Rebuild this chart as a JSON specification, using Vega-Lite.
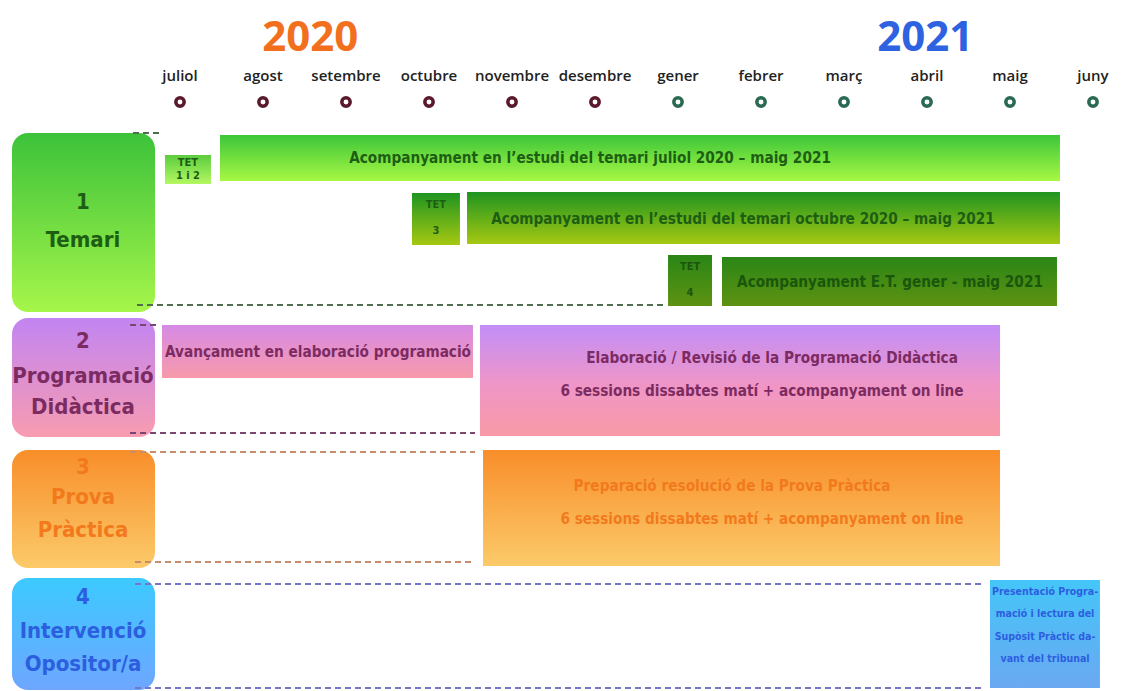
{
  "$schema": "https://vega.github.io/schema/vega-lite/v6.json",
  "width": 1128,
  "height": 691,
  "autosize": {"type": "fit", "contains": "padding"},
  "padding": 0,
  "background": "white",
  "config": {"view": {"stroke": null}},
  "datasets": {
    "months": [
      {"m": 0, "name": "juliol", "ring": "c2020"},
      {"m": 1, "name": "agost", "ring": "c2020"},
      {"m": 2, "name": "setembre", "ring": "c2020"},
      {"m": 3, "name": "octubre", "ring": "c2020"},
      {"m": 4, "name": "novembre", "ring": "c2020"},
      {"m": 5, "name": "desembre", "ring": "c2020"},
      {"m": 6, "name": "gener", "ring": "c2021"},
      {"m": 7, "name": "febrer", "ring": "c2021"},
      {"m": 8, "name": "març", "ring": "c2021"},
      {"m": 9, "name": "abril", "ring": "c2021"},
      {"m": 10, "name": "maig", "ring": "c2021"},
      {"m": 11, "name": "juny", "ring": "c2021"}
    ],
    "years": [
      {"text": "2020", "m": 1.57, "phase": "y2020"},
      {"text": "2021", "m": 8.98, "phase": "y2021"}
    ],
    "rects": [
      {"part": "box1", "label": "Temari", "m": -2.024, "m2": -0.301, "r": 13.3, "r2": 31.2},
      {"part": "box2", "label": "Programació Didàctica", "m": -2.024, "m2": -0.301, "r": 31.8, "r2": 43.7},
      {"part": "box3", "label": "Prova Pràctica", "m": -2.024, "m2": -0.301, "r": 45.0, "r2": 56.8},
      {"part": "box4", "label": "Intervenció Opositor/a", "m": -2.024, "m2": -0.301, "r": 57.8, "r2": 69.0},
      {"part": "tet12", "label": "TET 1 i 2", "m": -0.181, "m2": 0.373, "r": 15.5, "r2": 18.4},
      {"part": "acomp1", "label": "juliol - maig", "m": 0.482, "m2": 10.602, "r": 13.5, "r2": 18.1},
      {"part": "tet3", "label": "TET 3", "m": 2.795, "m2": 3.373, "r": 19.3, "r2": 24.5},
      {"part": "acomp2", "label": "octubre - maig", "m": 3.458, "m2": 10.602, "r": 19.2, "r2": 24.4},
      {"part": "tet4", "label": "TET 4", "m": 5.88, "m2": 6.41, "r": 25.5, "r2": 30.6},
      {"part": "acomp3", "label": "gener - maig", "m": 6.53, "m2": 10.566, "r": 25.7, "r2": 30.6},
      {"part": "avanc", "label": "Avançament", "m": -0.217, "m2": 3.53, "r": 32.5, "r2": 37.8},
      {"part": "elab", "label": "Elaboració", "m": 3.614, "m2": 9.88, "r": 32.5, "r2": 43.6},
      {"part": "prep", "label": "Preparació", "m": 3.651, "m2": 9.88, "r": 45.0, "r2": 56.6},
      {"part": "pres", "label": "Presentació", "m": 9.759, "m2": 11.084, "r": 58.0, "r2": 68.8}
    ],
    "dashes": [
      {"phase": "temari", "m": -0.566, "m2": -0.205, "r": 13.3},
      {"phase": "temari", "m": -0.518, "m2": 5.843, "r": 30.5},
      {"phase": "prog", "m": -0.602, "m2": -0.277, "r": 32.5},
      {"phase": "prog", "m": -0.602, "m2": 3.554, "r": 43.3},
      {"phase": "prova", "m": -0.602, "m2": 3.554, "r": 45.2},
      {"phase": "prova", "m": -0.542, "m2": 3.554, "r": 56.2},
      {"phase": "interv", "m": -0.542, "m2": 9.699, "r": 58.4},
      {"phase": "interv", "m": -0.542, "m2": 9.699, "r": 68.8}
    ],
    "texts": [
      {"kind": "cat", "text": "1", "m": -1.169, "r": 20.2, "phase": "temari"},
      {"kind": "cat", "text": "Temari", "m": -1.169, "r": 24.0, "phase": "temari"},
      {"kind": "cat", "text": "2", "m": -1.169, "r": 34.1, "phase": "prog"},
      {"kind": "cat", "text": "Programació", "m": -1.169, "r": 37.6, "phase": "prog"},
      {"kind": "cat", "text": "Didàctica", "m": -1.169, "r": 40.7, "phase": "prog"},
      {"kind": "cat", "text": "3", "m": -1.169, "r": 46.7, "phase": "prova"},
      {"kind": "cat", "text": "Prova", "m": -1.169, "r": 49.7, "phase": "prova"},
      {"kind": "cat", "text": "Pràctica", "m": -1.169, "r": 53.0, "phase": "prova"},
      {"kind": "cat", "text": "4", "m": -1.169, "r": 59.7, "phase": "interv"},
      {"kind": "cat", "text": "Intervenció", "m": -1.169, "r": 63.1, "phase": "interv"},
      {"kind": "cat", "text": "Opositor/a", "m": -1.169, "r": 66.4, "phase": "interv"},
      {"kind": "bar", "text": "Acompanyament en l’estudi del temari juliol 2020 – maig 2021", "m": 4.94, "r": 15.8, "phase": "temari"},
      {"kind": "bar", "text": "Acompanyament en l’estudi del temari octubre 2020 – maig 2021", "m": 6.783, "r": 21.9, "phase": "temari"},
      {"kind": "bar", "text": "Acompanyament E.T. gener - maig 2021", "m": 8.554, "r": 28.2, "phase": "temariET"},
      {"kind": "bar", "text": "Avançament en elaboració programació", "m": 1.663, "r": 35.2, "phase": "prog"},
      {"kind": "bar", "text": "Elaboració / Revisió de la Programació Didàctica", "m": 7.133, "r": 35.8, "phase": "prog"},
      {"kind": "bar", "text": "6 sessions dissabtes matí + acompanyament on line", "m": 7.012, "r": 39.1, "phase": "prog"},
      {"kind": "bar", "text": "Preparació resolució de la Prova Pràctica", "m": 6.651, "r": 48.6, "phase": "prova"},
      {"kind": "bar", "text": "6 sessions dissabtes matí + acompanyament on line", "m": 7.012, "r": 51.9, "phase": "prova"},
      {"kind": "tet", "text": "TET", "m": 0.096, "r": 16.3, "phase": "temari"},
      {"kind": "tet", "text": "1 i 2", "m": 0.096, "r": 17.6, "phase": "temari"},
      {"kind": "tet", "text": "TET", "m": 3.084, "r": 20.5, "phase": "temari"},
      {"kind": "tet", "text": "3", "m": 3.084, "r": 23.1, "phase": "temari"},
      {"kind": "tet", "text": "TET", "m": 6.145, "r": 26.7, "phase": "temariET"},
      {"kind": "tet", "text": "4", "m": 6.145, "r": 29.3, "phase": "temariET"},
      {"kind": "note", "text": "Presentació Progra-", "m": 10.422, "r": 59.2, "phase": "interv"},
      {"kind": "note", "text": "mació i lectura del", "m": 10.422, "r": 61.4, "phase": "interv"},
      {"kind": "note", "text": "Supòsit Pràctic da-", "m": 10.422, "r": 63.7, "phase": "interv"},
      {"kind": "note", "text": "vant del tribunal", "m": 10.422, "r": 65.9, "phase": "interv"}
    ]
  },
  "layer": [
    {
      "data": {"name": "rects"},
      "transform": [{"filter": "datum.part === 'box1'"}],
      "mark": {"type": "rect", "cornerRadius": 16, "fill": {"gradient": "linear", "x1": 0, "y1": 0, "x2": 0, "y2": 1, "stops": [{"offset": 0, "color": "#3cc23a"}, {"offset": 1, "color": "#a6f64a"}]}},
      "encoding": {
        "x": {"field": "m", "type": "quantitative", "scale": {"domain": [-2.1687, 11.4217], "nice": false, "zero": false}, "axis": null},
        "x2": {"field": "m2"},
        "y": {"field": "r", "type": "quantitative", "scale": {"domain": [0, 69.1], "reverse": true, "nice": false, "zero": false}, "axis": null},
        "y2": {"field": "r2"}
      }
    },
    {
      "data": {"name": "rects"},
      "transform": [{"filter": "datum.part === 'box2'"}],
      "mark": {"type": "rect", "cornerRadius": 16, "fill": {"gradient": "linear", "x1": 0, "y1": 0, "x2": 0, "y2": 1, "stops": [{"offset": 0, "color": "#c284f2"}, {"offset": 1, "color": "#f89cb0"}]}},
      "encoding": {
        "x": {"field": "m", "type": "quantitative", "scale": {"domain": [-2.1687, 11.4217], "nice": false, "zero": false}, "axis": null},
        "x2": {"field": "m2"},
        "y": {"field": "r", "type": "quantitative", "scale": {"domain": [0, 69.1], "reverse": true, "nice": false, "zero": false}, "axis": null},
        "y2": {"field": "r2"}
      }
    },
    {
      "data": {"name": "rects"},
      "transform": [{"filter": "datum.part === 'box3'"}],
      "mark": {"type": "rect", "cornerRadius": 16, "fill": {"gradient": "linear", "x1": 0, "y1": 0, "x2": 0, "y2": 1, "stops": [{"offset": 0, "color": "#f88e2a"}, {"offset": 1, "color": "#fcca6a"}]}},
      "encoding": {
        "x": {"field": "m", "type": "quantitative", "scale": {"domain": [-2.1687, 11.4217], "nice": false, "zero": false}, "axis": null},
        "x2": {"field": "m2"},
        "y": {"field": "r", "type": "quantitative", "scale": {"domain": [0, 69.1], "reverse": true, "nice": false, "zero": false}, "axis": null},
        "y2": {"field": "r2"}
      }
    },
    {
      "data": {"name": "rects"},
      "transform": [{"filter": "datum.part === 'prep'"}],
      "mark": {"type": "rect", "fill": {"gradient": "linear", "x1": 0, "y1": 0, "x2": 0, "y2": 1, "stops": [{"offset": 0, "color": "#f88e2a"}, {"offset": 1, "color": "#fcca6a"}]}},
      "encoding": {
        "x": {"field": "m", "type": "quantitative", "scale": {"domain": [-2.1687, 11.4217], "nice": false, "zero": false}, "axis": null},
        "x2": {"field": "m2"},
        "y": {"field": "r", "type": "quantitative", "scale": {"domain": [0, 69.1], "reverse": true, "nice": false, "zero": false}, "axis": null},
        "y2": {"field": "r2"}
      }
    },
    {
      "data": {"name": "rects"},
      "transform": [{"filter": "datum.part === 'box4'"}],
      "mark": {"type": "rect", "cornerRadius": 16, "fill": {"gradient": "linear", "x1": 0, "y1": 0, "x2": 0, "y2": 1, "stops": [{"offset": 0, "color": "#3ccaff"}, {"offset": 1, "color": "#6ea6ff"}]}},
      "encoding": {
        "x": {"field": "m", "type": "quantitative", "scale": {"domain": [-2.1687, 11.4217], "nice": false, "zero": false}, "axis": null},
        "x2": {"field": "m2"},
        "y": {"field": "r", "type": "quantitative", "scale": {"domain": [0, 69.1], "reverse": true, "nice": false, "zero": false}, "axis": null},
        "y2": {"field": "r2"}
      }
    },
    {
      "data": {"name": "rects"},
      "transform": [{"filter": "datum.part === 'tet12'"}],
      "mark": {"type": "rect", "fill": {"gradient": "linear", "x1": 0, "y1": 0, "x2": 0, "y2": 1, "stops": [{"offset": 0, "color": "#5ccc3e"}, {"offset": 1, "color": "#b4f862"}]}},
      "encoding": {
        "x": {"field": "m", "type": "quantitative", "scale": {"domain": [-2.1687, 11.4217], "nice": false, "zero": false}, "axis": null},
        "x2": {"field": "m2"},
        "y": {"field": "r", "type": "quantitative", "scale": {"domain": [0, 69.1], "reverse": true, "nice": false, "zero": false}, "axis": null},
        "y2": {"field": "r2"}
      }
    },
    {
      "data": {"name": "rects"},
      "transform": [{"filter": "datum.part === 'acomp1'"}],
      "mark": {"type": "rect", "fill": {"gradient": "linear", "x1": 0, "y1": 0, "x2": 0, "y2": 1, "stops": [{"offset": 0, "color": "#3cc63a"}, {"offset": 1, "color": "#a8f842"}]}},
      "encoding": {
        "x": {"field": "m", "type": "quantitative", "scale": {"domain": [-2.1687, 11.4217], "nice": false, "zero": false}, "axis": null},
        "x2": {"field": "m2"},
        "y": {"field": "r", "type": "quantitative", "scale": {"domain": [0, 69.1], "reverse": true, "nice": false, "zero": false}, "axis": null},
        "y2": {"field": "r2"}
      }
    },
    {
      "data": {"name": "rects"},
      "transform": [{"filter": "datum.part === 'tet3' || datum.part === 'acomp2'"}],
      "mark": {"type": "rect", "fill": {"gradient": "linear", "x1": 0, "y1": 0, "x2": 0, "y2": 1, "stops": [{"offset": 0, "color": "#1f9420"}, {"offset": 1, "color": "#a6c812"}]}},
      "encoding": {
        "x": {"field": "m", "type": "quantitative", "scale": {"domain": [-2.1687, 11.4217], "nice": false, "zero": false}, "axis": null},
        "x2": {"field": "m2"},
        "y": {"field": "r", "type": "quantitative", "scale": {"domain": [0, 69.1], "reverse": true, "nice": false, "zero": false}, "axis": null},
        "y2": {"field": "r2"}
      }
    },
    {
      "data": {"name": "rects"},
      "transform": [{"filter": "datum.part === 'tet4' || datum.part === 'acomp3'"}],
      "mark": {"type": "rect", "fill": {"gradient": "linear", "x1": 0, "y1": 0, "x2": 0, "y2": 1, "stops": [{"offset": 0, "color": "#2a8616"}, {"offset": 1, "color": "#5e9212"}]}},
      "encoding": {
        "x": {"field": "m", "type": "quantitative", "scale": {"domain": [-2.1687, 11.4217], "nice": false, "zero": false}, "axis": null},
        "x2": {"field": "m2"},
        "y": {"field": "r", "type": "quantitative", "scale": {"domain": [0, 69.1], "reverse": true, "nice": false, "zero": false}, "axis": null},
        "y2": {"field": "r2"}
      }
    },
    {
      "data": {"name": "rects"},
      "transform": [{"filter": "datum.part === 'avanc'"}],
      "mark": {"type": "rect", "fill": {"gradient": "linear", "x1": 0, "y1": 0, "x2": 0, "y2": 1, "stops": [{"offset": 0, "color": "#d68ae6"}, {"offset": 1, "color": "#f89aaa"}]}},
      "encoding": {
        "x": {"field": "m", "type": "quantitative", "scale": {"domain": [-2.1687, 11.4217], "nice": false, "zero": false}, "axis": null},
        "x2": {"field": "m2"},
        "y": {"field": "r", "type": "quantitative", "scale": {"domain": [0, 69.1], "reverse": true, "nice": false, "zero": false}, "axis": null},
        "y2": {"field": "r2"}
      }
    },
    {
      "data": {"name": "rects"},
      "transform": [{"filter": "datum.part === 'elab'"}],
      "mark": {"type": "rect", "fill": {"gradient": "linear", "x1": 0, "y1": 0, "x2": 0, "y2": 1, "stops": [{"offset": 0, "color": "#c28ef8"}, {"offset": 0.55, "color": "#f096c6"}, {"offset": 1, "color": "#f89aa6"}]}},
      "encoding": {
        "x": {"field": "m", "type": "quantitative", "scale": {"domain": [-2.1687, 11.4217], "nice": false, "zero": false}, "axis": null},
        "x2": {"field": "m2"},
        "y": {"field": "r", "type": "quantitative", "scale": {"domain": [0, 69.1], "reverse": true, "nice": false, "zero": false}, "axis": null},
        "y2": {"field": "r2"}
      }
    },
    {
      "data": {"name": "rects"},
      "transform": [{"filter": "datum.part === 'pres'"}],
      "mark": {"type": "rect", "fill": {"gradient": "linear", "x1": 0, "y1": 0, "x2": 0, "y2": 1, "stops": [{"offset": 0, "color": "#44c6f8"}, {"offset": 1, "color": "#6aa8f2"}]}},
      "encoding": {
        "x": {"field": "m", "type": "quantitative", "scale": {"domain": [-2.1687, 11.4217], "nice": false, "zero": false}, "axis": null},
        "x2": {"field": "m2"},
        "y": {"field": "r", "type": "quantitative", "scale": {"domain": [0, 69.1], "reverse": true, "nice": false, "zero": false}, "axis": null},
        "y2": {"field": "r2"}
      }
    },
    {
      "data": {"name": "dashes"},
      "mark": {"type": "rule", "strokeDash": [6, 4], "strokeWidth": 2},
      "encoding": {
        "x": {"field": "m", "type": "quantitative", "scale": {"domain": [-2.1687, 11.4217], "nice": false, "zero": false}, "axis": null},
        "x2": {"field": "m2"},
        "y": {"field": "r", "type": "quantitative", "scale": {"domain": [0, 69.1], "reverse": true, "nice": false, "zero": false}, "axis": null},
        "stroke": {"field": "phase", "type": "nominal", "scale": {"domain": ["temari", "prog", "prova", "interv"], "range": ["#4f6e4f", "#7a4670", "#c98c6c", "#7676c6"]}, "legend": null}
      }
    },
    {
      "data": {"name": "texts"},
      "transform": [{"filter": "datum.kind === 'cat'"}],
      "mark": {"type": "text", "font": "DejaVu Sans Condensed, Roboto", "fontWeight": "bold", "fontSize": 22, "align": "center", "baseline": "middle"},
      "encoding": {
        "x": {"field": "m", "type": "quantitative", "scale": {"domain": [-2.1687, 11.4217], "nice": false, "zero": false}, "axis": null},
        "y": {"field": "r", "type": "quantitative", "scale": {"domain": [0, 69.1], "reverse": true, "nice": false, "zero": false}, "axis": null},
        "text": {"field": "text"},
        "color": {"field": "phase", "type": "nominal", "scale": {"domain": ["temari", "temariET", "prog", "prova", "interv", "c2020", "c2021", "y2020", "y2021"], "range": ["#1d5e14", "#1a560c", "#7c2b62", "#f27a1c", "#2c5ee0", "#5a1a2c", "#2b6a52", "#f26f1e", "#2f62e0"]}, "legend": null}
      }
    },
    {
      "data": {"name": "texts"},
      "transform": [{"filter": "datum.kind === 'bar'"}],
      "mark": {"type": "text", "font": "DejaVu Sans Condensed, Roboto", "fontWeight": "bold", "fontSize": 15.2, "align": "center", "baseline": "middle"},
      "encoding": {
        "x": {"field": "m", "type": "quantitative", "scale": {"domain": [-2.1687, 11.4217], "nice": false, "zero": false}, "axis": null},
        "y": {"field": "r", "type": "quantitative", "scale": {"domain": [0, 69.1], "reverse": true, "nice": false, "zero": false}, "axis": null},
        "text": {"field": "text"},
        "color": {"field": "phase", "type": "nominal", "scale": {"domain": ["temari", "temariET", "prog", "prova", "interv", "c2020", "c2021", "y2020", "y2021"], "range": ["#1d5e14", "#1a560c", "#7c2b62", "#f27a1c", "#2c5ee0", "#5a1a2c", "#2b6a52", "#f26f1e", "#2f62e0"]}, "legend": null}
      }
    },
    {
      "data": {"name": "texts"},
      "transform": [{"filter": "datum.kind === 'tet'"}],
      "mark": {"type": "text", "font": "DejaVu Sans Condensed, Roboto", "fontWeight": "bold", "fontSize": 11, "align": "center", "baseline": "middle"},
      "encoding": {
        "x": {"field": "m", "type": "quantitative", "scale": {"domain": [-2.1687, 11.4217], "nice": false, "zero": false}, "axis": null},
        "y": {"field": "r", "type": "quantitative", "scale": {"domain": [0, 69.1], "reverse": true, "nice": false, "zero": false}, "axis": null},
        "text": {"field": "text"},
        "color": {"field": "phase", "type": "nominal", "scale": {"domain": ["temari", "temariET", "prog", "prova", "interv", "c2020", "c2021", "y2020", "y2021"], "range": ["#1d5e14", "#1a560c", "#7c2b62", "#f27a1c", "#2c5ee0", "#5a1a2c", "#2b6a52", "#f26f1e", "#2f62e0"]}, "legend": null}
      }
    },
    {
      "data": {"name": "texts"},
      "transform": [{"filter": "datum.kind === 'note'"}],
      "mark": {"type": "text", "font": "DejaVu Sans Condensed, Roboto", "fontWeight": "bold", "fontSize": 10.5, "align": "center", "baseline": "middle"},
      "encoding": {
        "x": {"field": "m", "type": "quantitative", "scale": {"domain": [-2.1687, 11.4217], "nice": false, "zero": false}, "axis": null},
        "y": {"field": "r", "type": "quantitative", "scale": {"domain": [0, 69.1], "reverse": true, "nice": false, "zero": false}, "axis": null},
        "text": {"field": "text"},
        "color": {"field": "phase", "type": "nominal", "scale": {"domain": ["temari", "temariET", "prog", "prova", "interv", "c2020", "c2021", "y2020", "y2021"], "range": ["#1d5e14", "#1a560c", "#7c2b62", "#f27a1c", "#2c5ee0", "#5a1a2c", "#2b6a52", "#f26f1e", "#2f62e0"]}, "legend": null}
      }
    },
    {
      "data": {"name": "months"},
      "mark": {"type": "text", "font": "Open Sans", "fontWeight": 600, "fontSize": 15, "align": "center", "baseline": "middle", "color": "#222222"},
      "encoding": {
        "x": {"field": "m", "type": "quantitative", "scale": {"domain": [-2.1687, 11.4217], "nice": false, "zero": false}, "axis": null},
        "y": {"datum": 7.6, "type": "quantitative", "scale": {"domain": [0, 69.1], "reverse": true, "nice": false, "zero": false}, "axis": null},
        "text": {"field": "name"}
      }
    },
    {
      "data": {"name": "months"},
      "mark": {"type": "point", "shape": "circle", "filled": false, "size": 70, "strokeWidth": 3.5, "opacity": 1},
      "encoding": {
        "x": {"field": "m", "type": "quantitative", "scale": {"domain": [-2.1687, 11.4217], "nice": false, "zero": false}, "axis": null},
        "y": {"datum": 10.2, "type": "quantitative", "scale": {"domain": [0, 69.1], "reverse": true, "nice": false, "zero": false}, "axis": null},
        "color": {"field": "ring", "type": "nominal", "scale": {"domain": ["temari", "temariET", "prog", "prova", "interv", "c2020", "c2021", "y2020", "y2021"], "range": ["#1d5e14", "#1a560c", "#7c2b62", "#f27a1c", "#2c5ee0", "#5a1a2c", "#2b6a52", "#f26f1e", "#2f62e0"]}, "legend": null}
      }
    },
    {
      "data": {"name": "years"},
      "mark": {"type": "text", "font": "Open Sans", "fontWeight": "bold", "fontSize": 42, "align": "center", "baseline": "middle"},
      "encoding": {
        "x": {"field": "m", "type": "quantitative", "scale": {"domain": [-2.1687, 11.4217], "nice": false, "zero": false}, "axis": null},
        "y": {"datum": 3.8, "type": "quantitative", "scale": {"domain": [0, 69.1], "reverse": true, "nice": false, "zero": false}, "axis": null},
        "text": {"field": "text"},
        "color": {"field": "phase", "type": "nominal", "scale": {"domain": ["temari", "temariET", "prog", "prova", "interv", "c2020", "c2021", "y2020", "y2021"], "range": ["#1d5e14", "#1a560c", "#7c2b62", "#f27a1c", "#2c5ee0", "#5a1a2c", "#2b6a52", "#f26f1e", "#2f62e0"]}, "legend": null}
      }
    }
  ]
}
